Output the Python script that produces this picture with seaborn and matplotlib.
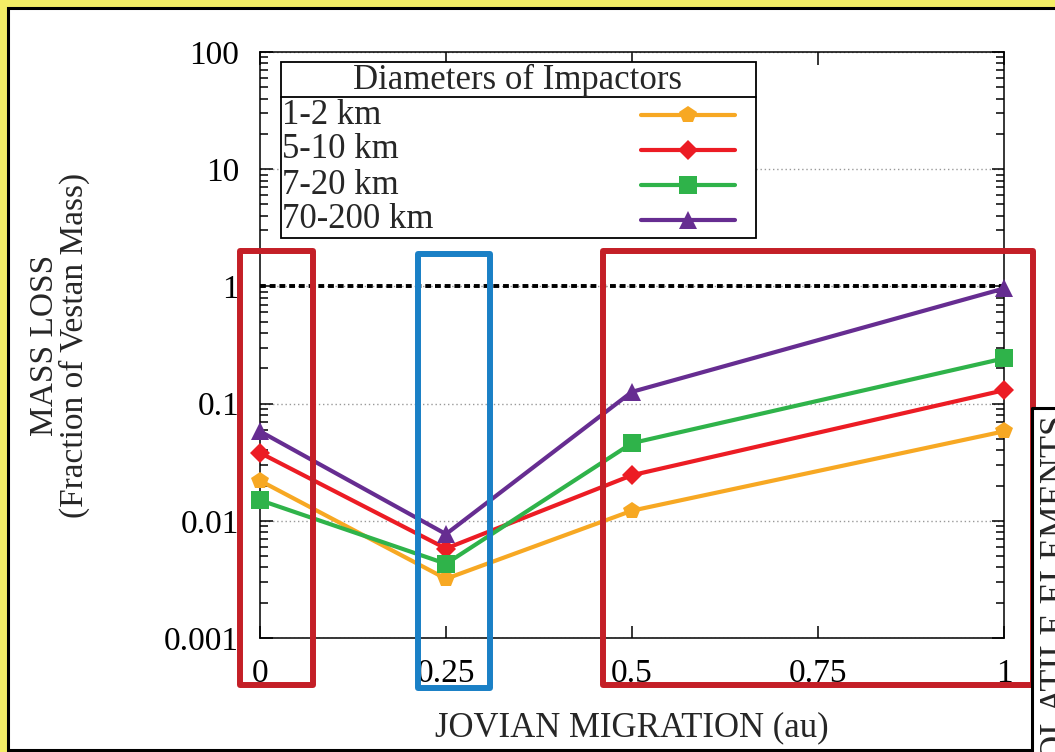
import numpy as np
import pandas as pd
import matplotlib
matplotlib.use("Agg")
import matplotlib.pyplot as plt
import seaborn as sns
from matplotlib.patches import Rectangle
from matplotlib.lines import Line2D
from matplotlib.ticker import LogLocator, FixedLocator, FixedFormatter, NullFormatter, NullLocator

# ---------------- data ----------------
migration = [0.0, 0.25, 0.5, 1.0]
series_labels = ["1-2 km", "5-10 km", "7-20 km", "70-200 km"]
loss_1_2 = [0.022, 0.0032, 0.0122, 0.058]
loss_5_10 = [0.038, 0.0058, 0.0245, 0.13]
loss_7_20 = [0.015, 0.0043, 0.046, 0.243]
loss_70_200 = [0.058, 0.0077, 0.126, 0.96]
x_ticks = [0, 0.25, 0.5, 0.75, 1]
x_ticklabels = ["0", "0.25", "0.5", "0.75", "1"]
y_ticks = [0.001, 0.01, 0.1, 1, 10, 100]
y_ticklabels = ["0.001", "0.01", "0.1", "1", "10", "100"]
vesta_mass_line = 1.0

colors = ["#f7a823", "#ec1c24", "#2fb34a", "#662d91"]
markers = ["p", "D", "s", "^"]
msizes = [13, 10, 13, 13]

df = pd.DataFrame({
    "x": migration * 4,
    "y": loss_1_2 + loss_5_10 + loss_7_20 + loss_70_200,
    "size": sum([[s] * len(migration) for s in series_labels], []),
})

# ---------------- figure ----------------
sns.set_style("ticks")
plt.rcParams["font.family"] = ["Liberation Serif", "DejaVu Serif"]
plt.rcParams["mathtext.fontset"] = "stix"

W, H = 1055, 752
fig = plt.figure(figsize=(W / 100, H / 100), dpi=100, facecolor="#f4ee66")

def fx(px):
    return px / W

def fy(py):
    return 1 - py / H

# white panel with black border
panel = Rectangle((fx(7.5), fy(749.5)), fx(1200), (749.5 - 7.5) / H,
                  transform=fig.transFigure, facecolor="white", edgecolor="black",
                  lw=2.2, zorder=-10)
fig.add_artist(panel)

ax_l, ax_r, ax_t, ax_b = 260, 1004, 52, 638
ax = fig.add_axes([fx(ax_l), fy(ax_b), (ax_r - ax_l) / W, (ax_b - ax_t) / H])
ax.set_facecolor("none")

for i, lab in enumerate(series_labels):
    sub = df[df["size"] == lab]
    sns.lineplot(data=sub, x="x", y="y", color=colors[i], marker=markers[i],
                 markersize=msizes[i], markeredgewidth=0, lw=3, ax=ax,
                 legend=False, zorder=3, clip_on=False)

ax.axhline(vesta_mass_line, color="black", lw=2.8, ls=(0, (1.5, 1.0)), zorder=2)

ax.set_yscale("log")
ax.set_ylim(0.001, 100)
ax.set_xlim(0, 1)
ax.yaxis.set_major_locator(FixedLocator(y_ticks))
ax.yaxis.set_major_formatter(FixedFormatter(y_ticklabels))
ax.yaxis.set_minor_locator(LogLocator(base=10, subs=np.arange(2, 10)))
ax.yaxis.set_minor_formatter(NullFormatter())
ax.xaxis.set_major_locator(FixedLocator(x_ticks))
ax.xaxis.set_major_formatter(FixedFormatter(x_ticklabels))
ax.xaxis.set_minor_locator(NullLocator())

ax.yaxis.grid(True, which="major", color="#999999", lw=1.0, ls=(0, (1, 2)))
ax.set_axisbelow(True)

for s in ax.spines.values():
    s.set_linewidth(1.1)
    s.set_color("black")

ax.tick_params(axis="both", which="both", direction="in", top=True, right=True,
               colors="black", width=1.1)
ax.tick_params(axis="both", which="major", length=9, labelsize=24)
ax.tick_params(axis="both", which="minor", length=5.5)
ax.tick_params(axis="y", which="major", pad=15)
ax.tick_params(axis="x", which="major", pad=15)

ax.set_xlabel("JOVIAN MIGRATION (au)", fontsize=25)
ax.set_ylabel("MASS LOSS\n(Fraction of Vestan Mass)", fontsize=24, linespacing=0.95)
ax.xaxis.set_label_coords(0.5, -0.125)
ax.yaxis.set_label_coords(-0.228, 0.5)

# ---------------- legend (drawn as a boxed key) ----------------
def axx(px):
    return (px - ax_l) / (ax_r - ax_l)

def axy(py):
    return (ax_b - py) / (ax_b - ax_t)

box = Rectangle((axx(281), axy(238)), axx(756) - axx(281), axy(62) - axy(238),
                transform=ax.transAxes, facecolor="white", edgecolor="black",
                lw=1.3, zorder=6)
ax.add_patch(box)
ax.add_line(Line2D([axx(281), axx(756)], [axy(97), axy(97)], transform=ax.transAxes,
                   color="black", lw=1.3, zorder=7))
ax.text(axx(517.5), axy(80), "Diameters of Impactors", transform=ax.transAxes,
        ha="center", va="center", fontsize=25, zorder=8)
row_y = [115, 150, 185, 220]
for i, lab in enumerate(series_labels):
    ax.text(axx(282), axy(row_y[i]), lab, transform=ax.transAxes, ha="left",
            va="center", fontsize=25, zorder=8)
    ax.add_line(Line2D([axx(641), axx(735)], [axy(row_y[i]), axy(row_y[i])],
                       transform=ax.transAxes, color=colors[i], lw=3, zorder=8))
    ax.add_line(Line2D([axx(688)], [axy(row_y[i])], transform=ax.transAxes,
                       color=colors[i], marker=markers[i], markersize=msizes[i],
                       markeredgewidth=0, lw=0, zorder=9))

# ---------------- overlay annotations ----------------
def frame(x0, y0, x1, y1, color, lw=4.3, z=20, fc="none"):
    r = Rectangle((fx(x0), fy(y1)), fx(x1) - fx(x0), fy(y0) - fy(y1),
                  transform=fig.transFigure, facecolor=fc, edgecolor=color,
                  lw=lw, zorder=z, joinstyle="round")
    fig.add_artist(r)

frame(240, 251, 313, 685, "#c41f27")
frame(418, 254, 490, 688, "#1a80c6")
frame(603, 251, 1033, 685, "#c41f27")
frame(1032, 408, 1200, 900, "black", lw=2.2, z=25, fc="white")
fig.text(fx(1040), fy(415), "MODERATELY VOLATILE ELEMENTS", rotation=90,
         ha="left", va="top", fontsize=26, zorder=26)

fig.savefig("out.png", dpi=100)
